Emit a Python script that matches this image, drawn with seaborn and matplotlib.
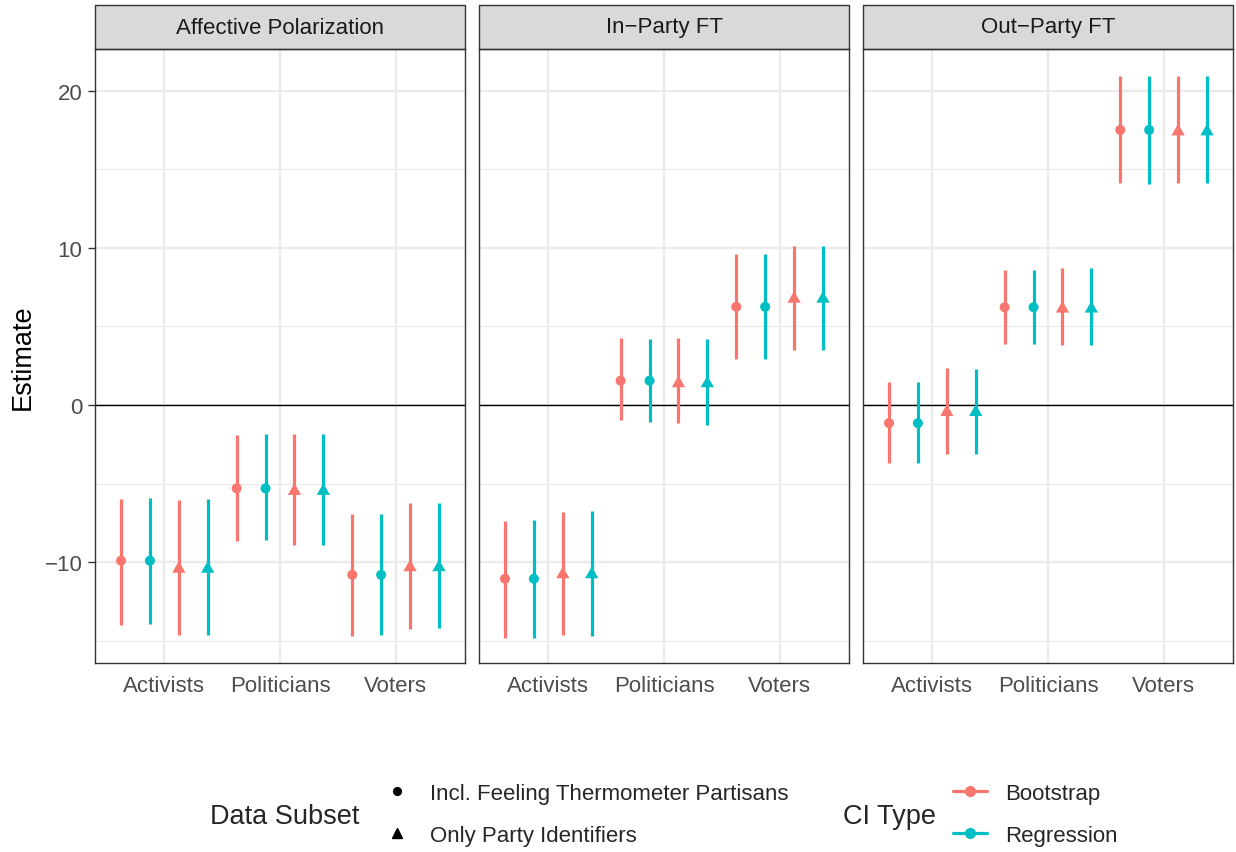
import matplotlib
matplotlib.use("Agg")
import numpy as np
import pandas as pd
import matplotlib.pyplot as plt
import seaborn as sns
from matplotlib.lines import Line2D
from matplotlib.patches import Rectangle


outcomes = ["Affective Polarization", "In\u2212Party FT", "Out\u2212Party FT"]
groups = ["Activists", "Politicians", "Voters"]
subsets = ["Incl. Feeling Thermometer Partisans", "Only Party Identifiers"]
ci_types = ["Bootstrap", "Regression"]

# point estimates, per group: [incl. FT partisans, only party identifiers]
est_ap = [[-9.9, -10.3], [-5.3, -5.35], [-10.8, -10.2]]
est_in = [[-11.05, -10.65], [1.55, 1.5], [6.25, 6.88]]
est_out = [[-1.15, -0.33], [6.22, 6.25], [17.5, 17.52]]

# CI bounds, per group: [circle-boot, circle-reg, tri-boot, tri-reg]
lo_ap = [[-14.0, -13.9, -14.6, -14.65], [-8.65, -8.6, -8.9, -8.9], [-14.7, -14.65, -14.25, -14.2]]
hi_ap = [[-6.0, -5.9, -6.05, -6.0], [-1.9, -1.85, -1.85, -1.85], [-6.95, -6.9, -6.25, -6.2]]
lo_in = [[-14.8, -14.8, -14.6, -14.7], [-0.95, -1.05, -1.15, -1.3], [2.9, 2.9, 3.5, 3.5]]
hi_in = [[-7.35, -7.3, -6.8, -6.75], [4.25, 4.2, 4.25, 4.2], [9.6, 9.6, 10.1, 10.1]]
lo_out = [[-3.7, -3.7, -3.1, -3.1], [3.9, 3.9, 3.8, 3.8], [14.1, 14.05, 14.1, 14.1]]
hi_out = [[1.45, 1.45, 2.35, 2.3], [8.6, 8.6, 8.7, 8.7], [20.95, 20.95, 20.95, 20.95]]

palette = {"Bootstrap": "#F8766D", "Regression": "#00BFC4"}
tri = [(-0.577, -0.5), (0.577, -0.5), (0.0, 0.5)]
marker_map = {subsets[0]: "o", subsets[1]: tri}
size_map = {subsets[0]: 52, subsets[1]: 92}

# long table
rows = []
all_est = [est_ap, est_in, est_out]
all_lo = [lo_ap, lo_in, lo_out]
all_hi = [hi_ap, hi_in, hi_out]
dodge = 1.0
for k, outcome in enumerate(outcomes):
    for g, group in enumerate(groups):
        j = 0
        for s, subset in enumerate(subsets):
            for ci in ci_types:
                offset = -dodge / 2 + dodge / 8 + j * dodge / 4
                rows.append({
                    "outcome": outcome, "group": group, "subset": subset, "ci": ci,
                    "xpos": g + offset, "estimate": all_est[k][g][s],
                    "lower": all_lo[k][g][j], "upper": all_hi[k][g][j],
                })
                j += 1
df = pd.DataFrame(rows)

sns.set_style("white")
plt.rcParams["font.family"] = ["Liberation Sans", "DejaVu Sans"]
small = 16
big = 19.5


def draw_panel(data, **kws):
    ax = plt.gca()
    ax.axhline(0, color="black", lw=1.0, zorder=1.5)
    for ci in ci_types:
        d = data[data["ci"] == ci]
        ax.vlines(d["xpos"], d["lower"], d["upper"], color=palette[ci], lw=2.3, zorder=2)
    for subset in subsets:
        d = data[data["subset"] == subset]
        sns.scatterplot(data=d, x="xpos", y="estimate", hue="ci", hue_order=ci_types,
                        palette=palette, marker=marker_map[subset], s=size_map[subset],
                        linewidth=0, legend=False, ax=ax, zorder=3)


g = sns.FacetGrid(df, col="outcome", col_order=outcomes, sharey=True, despine=False)
g.map_dataframe(draw_panel)
fig = g.figure
fig.set_size_inches(12.36, 8.53)
fig.set_dpi(100)
fig.subplots_adjust(left=95 / 1236, right=1233 / 1236, top=1 - 50 / 853,
                    bottom=1 - 664 / 853, wspace=14 / 370)

strip_h = 44 / 614
for ax, outcome in zip(g.axes.flat, outcomes):
    ax.set_title("")
    ax.set_xlabel("")
    ax.set_ylabel("")
    ax.set_xlim(-0.6, 2.6)
    ax.set_ylim(-16.41, 22.65)
    ax.set_xticks(range(len(groups)))
    ax.set_xticklabels(groups)
    ax.set_yticks([-10, 0, 10, 20])
    ax.set_yticks([-15, -5, 5, 15], minor=True)
    ax.grid(True, which="major", color="#EBEBEB", lw=1.7, zorder=0)
    ax.grid(True, which="minor", axis="y", color="#EBEBEB", lw=0.9, zorder=0)
    ax.set_axisbelow(True)
    for sp in ax.spines.values():
        sp.set_color("#333333")
        sp.set_linewidth(1.0)
        sp.set_visible(True)
    ax.tick_params(axis="both", which="major", length=5, width=1.0, color="#333333",
                   labelsize=small, labelcolor="#4D4D4D", direction="out")
    ax.tick_params(axis="x", pad=3.5)
    ax.tick_params(axis="y", pad=4)
    ax.tick_params(axis="both", which="minor", length=0)
    ax.tick_params(axis="y", left=(ax is g.axes.flat[0]), labelleft=(ax is g.axes.flat[0]))
    ax.add_patch(Rectangle((0, 1), 1, strip_h, transform=ax.transAxes, clip_on=False,
                           facecolor="#D9D9D9", edgecolor="#333333", lw=1.0))
    ax.text(0.5, 1 + strip_h / 2, outcome, transform=ax.transAxes, ha="center",
            va="center", fontsize=small, color="#1A1A1A")

fig.text(22.7 / 1236, 1 - 357 / 853, "Estimate", rotation=90, ha="center", va="center",
         fontsize=big, color="black")

# legends
leg_y = 1 - 815.5 / 853
shape_handles = [
    Line2D([], [], marker="o", color="black", linestyle="none", markersize=5.6),
    Line2D([], [], marker="^", color="black", linestyle="none", markersize=7.0),
]
leg1 = fig.legend(shape_handles, subsets, loc="center left",
                  bbox_to_anchor=(386.0 / 1236, leg_y), frameon=False, fontsize=small,
                  borderpad=0, borderaxespad=0, handlelength=1.0, handletextpad=0.98,
                  labelspacing=0.93)
ci_handles = [Line2D([], [], marker="o", color=palette[c], lw=2.3, markersize=7)
              for c in ci_types]
leg2 = fig.legend(ci_handles, ci_types, loc="center left",
                  bbox_to_anchor=(953.3 / 1236, leg_y), frameon=False, fontsize=small,
                  borderpad=0, borderaxespad=0, handlelength=1.5, handletextpad=0.85,
                  labelspacing=0.93)
fig.text(210 / 1236, 1 - 817.5 / 853, "Data Subset", ha="left", va="center", fontsize=big)
fig.text(843 / 1236, 1 - 817.5 / 853, "CI Type", ha="left", va="center", fontsize=big)

fig.savefig("out.png", dpi=100)
